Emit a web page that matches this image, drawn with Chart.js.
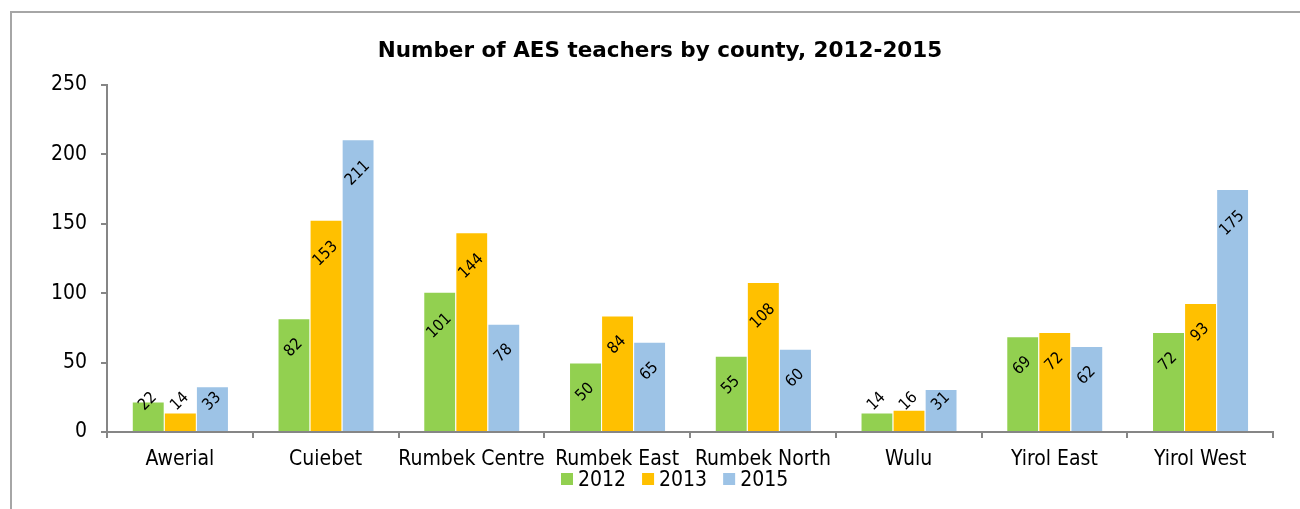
<!DOCTYPE html>
<html>
<head>
<meta charset="utf-8">
<script src="https://cdn.jsdelivr.net/npm/chart.js@4.4.1/dist/chart.umd.min.js"></script>
<style>
  html, body { margin: 0; padding: 0; background: #ffffff; }
  #wrap { width: 1300px; height: 509px; position: relative; }
</style>
</head>
<body>
<div id="wrap"><canvas id="chart" width="1300" height="509"></canvas></div>
<script>
// Counties and teacher counts per year
const counties = ['Awerial', 'Cuiebet', 'Rumbek Centre', 'Rumbek East', 'Rumbek North', 'Wulu', 'Yirol East', 'Yirol West'];
const years = ['2012', '2013', '2015'];
const teachers2012 = [22, 82, 101, 50, 55, 14, 69, 72];
const teachers2013 = [14, 153, 144, 84, 108, 16, 72, 93];
const teachers2015 = [33, 211, 78, 65, 60, 31, 62, 175];
const yTicks = [0, 50, 100, 150, 200, 250];
const chartTitle = 'Number of AES teachers by county, 2012-2015';

const seriesColors = ['#92D050', '#FFC000', '#9DC3E6'];
const FONT = '"DejaVu Sans Condensed", "DejaVu Sans", sans-serif';
const AXIS_GREY = '#868686';

Chart.defaults.font.family = FONT;
Chart.defaults.color = '#000000';

// Outer frame around the chart
const framePlugin = {
  id: 'frame',
  beforeDraw(chart) {
    const ctx = chart.ctx;
    ctx.save();
    ctx.fillStyle = '#ffffff';
    ctx.fillRect(0, 0, chart.width, chart.height);
    ctx.strokeStyle = '#a6a6a6';
    ctx.lineWidth = 2;
    ctx.strokeRect(11, 12, 1400, 700);
    ctx.restore();
  }
};

// Bold title above the plot
const titlePlugin = {
  id: 'titleText',
  afterDraw(chart) {
    const ctx = chart.ctx;
    ctx.save();
    ctx.font = 'bold 21.5px "DejaVu Sans", sans-serif';
    ctx.fillStyle = '#000000';
    ctx.textAlign = 'center';
    ctx.textBaseline = 'alphabetic';
    ctx.fillText(chartTitle, 660, 57);
    ctx.restore();
  }
};

// Rotated value labels near the top of each bar
const valueLabelPlugin = {
  id: 'valueLabels',
  afterDatasetsDraw(chart) {
    const ctx = chart.ctx;
    ctx.save();
    ctx.font = '16px ' + FONT;
    ctx.fillStyle = '#000000';
    ctx.textAlign = 'center';
    ctx.textBaseline = 'middle';
    chart.data.datasets.forEach((ds, di) => {
      const meta = chart.getDatasetMeta(di);
      meta.data.forEach((bar, i) => {
        const text = String(ds.data[i]);
        const w = ctx.measureText(text).width;
        const inset = 20.5 + w / 2;
        const cy = Math.min(bar.y + inset, bar.base - 29.5);
        ctx.save();
        ctx.translate(bar.x, cy);
        ctx.rotate(-Math.PI / 4);
        ctx.fillText(text, 0, 0);
        ctx.restore();
      });
    });
    ctx.restore();
  }
};

// Legend row under the category labels
const legendPlugin = {
  id: 'legendRow',
  afterDraw(chart) {
    const ctx = chart.ctx;
    ctx.save();
    ctx.font = '21px ' + FONT;
    ctx.textBaseline = 'alphabetic';
    ctx.textAlign = 'left';
    let x = 561;
    chart.data.datasets.forEach(ds => {
      ctx.fillStyle = ds.backgroundColor;
      ctx.fillRect(x, 473, 12, 12);
      ctx.fillStyle = '#000000';
      ctx.fillText(ds.label, x + 17, 486);
      x += 12 + 5 + ctx.measureText(ds.label).width + 16;
    });
    ctx.restore();
  }
};

const seriesValues = [teachers2012, teachers2013, teachers2015];

new Chart(document.getElementById('chart'), {
  type: 'bar',
  data: {
    labels: counties,
    datasets: years.map((y, i) => ({
      label: y,
      data: seriesValues[i],
      backgroundColor: seriesColors[i],
      borderColor: 'rgba(255,255,255,0.5)',
      borderWidth: { left: 1, top: 1, right: 0, bottom: 0 },
      categoryPercentage: 0.66,
      barPercentage: 1.0
    }))
  },
  options: {
    responsive: false,
    animation: false,
    devicePixelRatio: 1,
    layout: { padding: { left: 0, right: 27, top: 85, bottom: 0 } },
    plugins: {
      legend: { display: false },
      title: { display: false },
      tooltip: { enabled: false }
    },
    scales: {
      x: {
        grid: {
          display: true,
          drawOnChartArea: false,
          drawTicks: true,
          tickLength: 6,
          color: AXIS_GREY,
          lineWidth: 2,
          offset: true
        },
        border: { display: true, color: AXIS_GREY, width: 2 },
        ticks: {
          font: { size: 21, family: FONT },
          color: '#000000',
          padding: 9,
          maxRotation: 0,
          minRotation: 0,
          autoSkip: false
        },
        afterFit(scale) { scale.height = 77; }
      },
      y: {
        min: 0,
        max: 250,
        afterBuildTicks(scale) { scale.ticks = yTicks.map(v => ({ value: v })); },
        grid: {
          display: true,
          drawOnChartArea: false,
          drawTicks: true,
          tickLength: 6,
          color: AXIS_GREY,
          lineWidth: 2
        },
        border: { display: true, color: AXIS_GREY, width: 2 },
        ticks: {
          font: { size: 21, family: FONT },
          color: '#000000',
          padding: 14
        },
        afterFit(scale) { scale.width = 107; }
      }
    }
  },
  plugins: [framePlugin, titlePlugin, valueLabelPlugin, legendPlugin]
});
</script>
</body>
</html>
